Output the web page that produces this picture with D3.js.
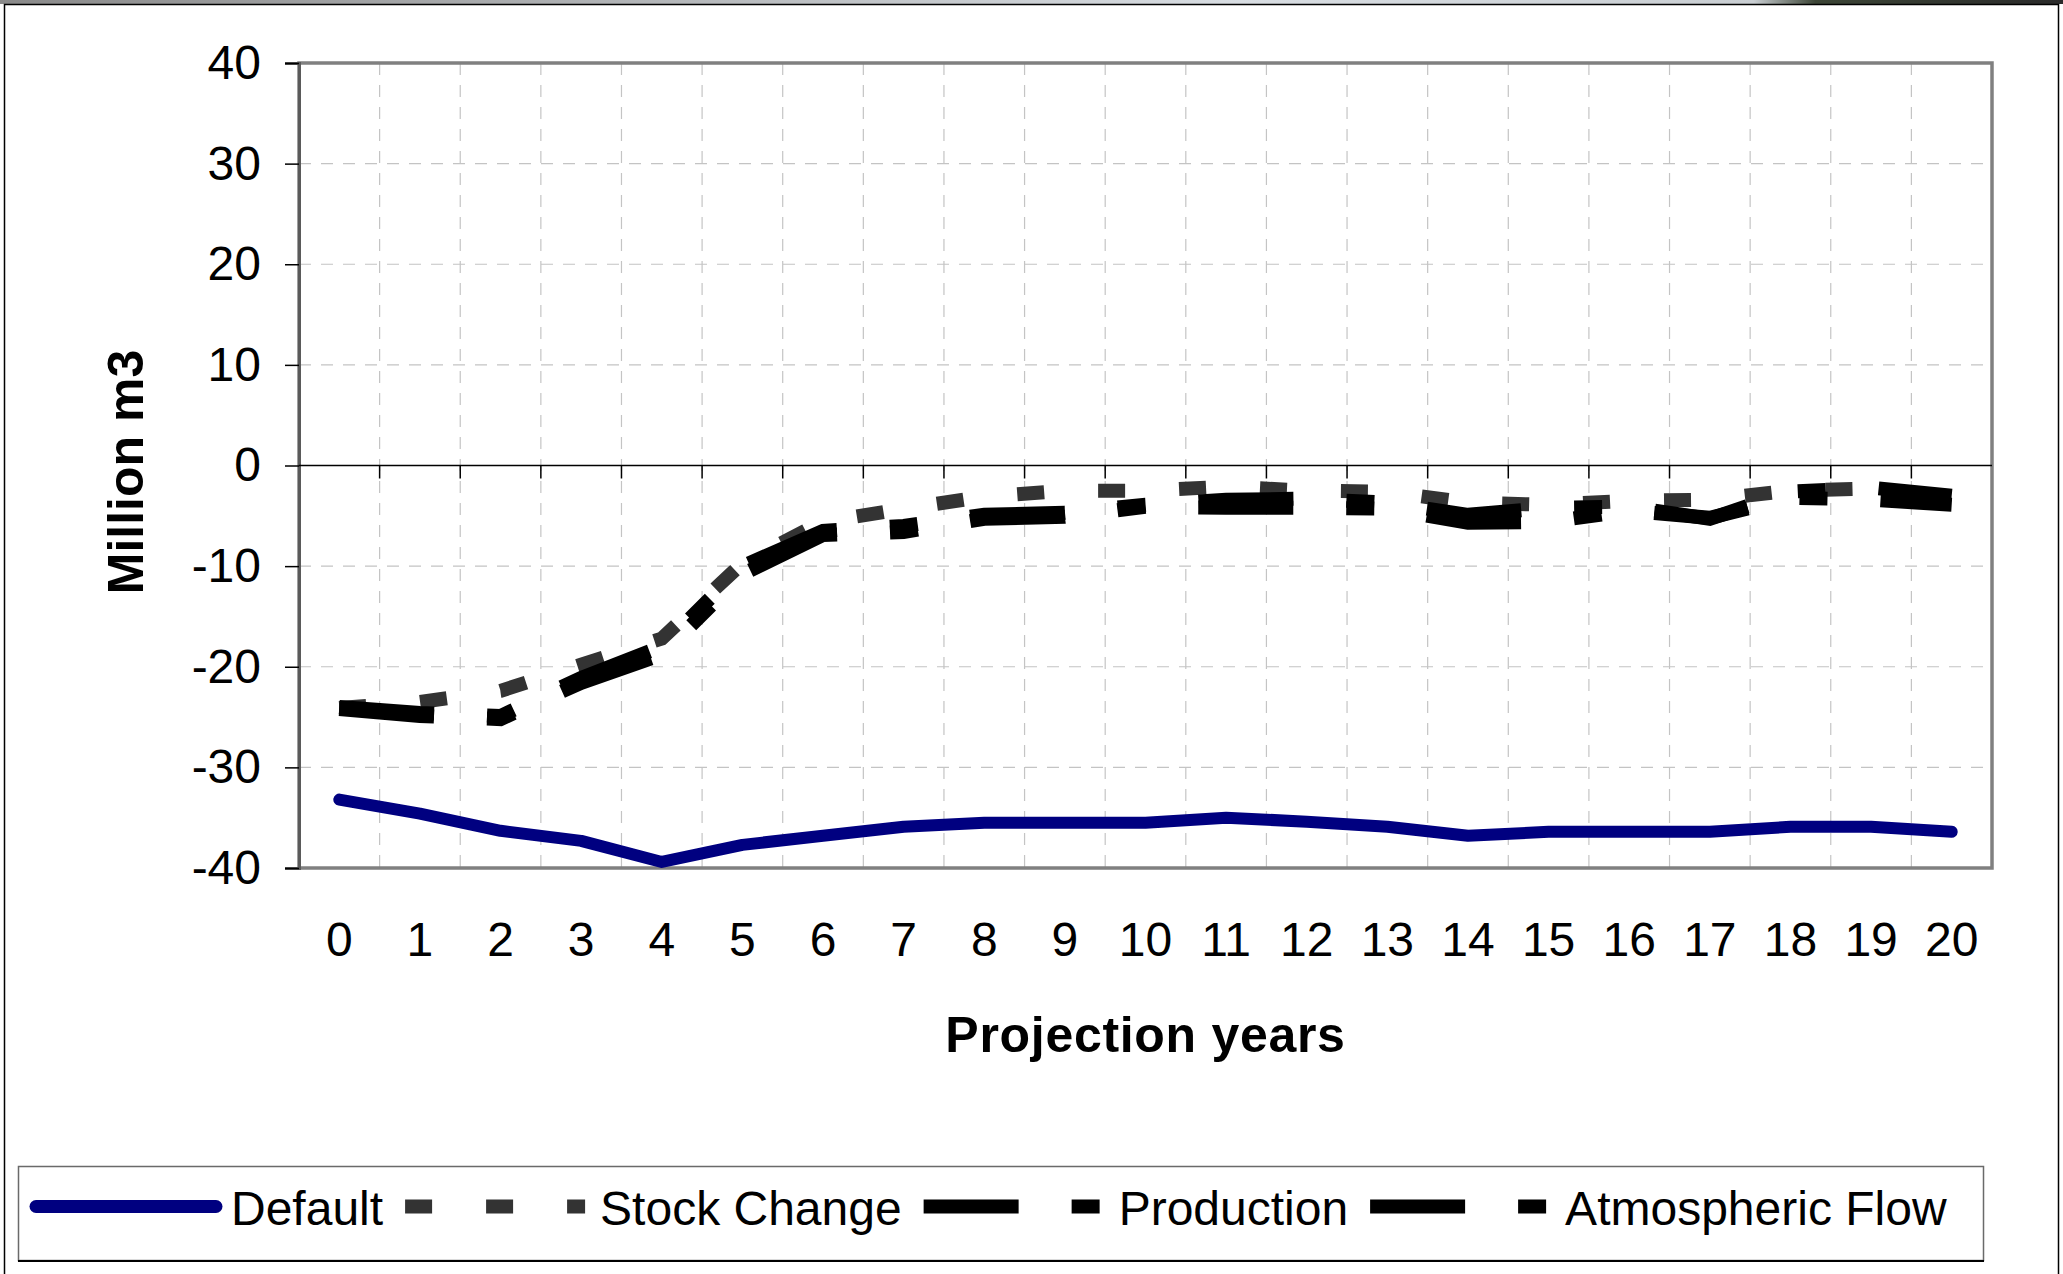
<!DOCTYPE html>
<html>
<head>
<meta charset="utf-8">
<script src="https://cdn.jsdelivr.net/npm/d3@7"></script>
<style>
  body { margin: 0; background: #fff; }
  svg { display: block; font-family: "Liberation Sans", Arial, sans-serif; }
</style>
</head>
<body>
<svg id="chart" width="2063" height="1274"></svg>
<script>
// projection years on the category axis
const years = [0, 1, 2, 3, 4, 5, 6, 7, 8, 9, 10, 11, 12, 13, 14, 15, 16, 17, 18, 19, 20];
const yTicks = [-40, -30, -20, -10, 0, 10, 20, 30, 40];

// values, million m3
const defaultVals = [-33.2, -34.6, -36.3, -37.3, -39.4, -37.7, -36.8, -35.9, -35.5, -35.5, -35.5,
                     -35.0, -35.4, -35.9, -36.8, -36.4, -36.4, -36.4, -35.9, -35.9, -36.4];
const stockChange = [-24.1, -23.5, -22.4, -19.8, -17.2, -9.7, -5.6, -4.3, -3.1, -2.5, -2.5,
                     -2.1, -2.5, -2.6, -3.7, -3.9, -3.5, -3.4, -2.5, -2.3, -3.2];
const production  = [-24.2, -24.9, -25.2, -21.6, -18.8, -10.8, -6.9, -6.6, -5.3, -5.1, -4.1,
                     -4.2, -4.2, -4.3, -5.7, -5.6, -4.5, -5.2, -3.2, -3.4, -3.9];
const atmospheric = [-24.0, -24.6, -24.9, -21.1, -18.0, -10.0, -6.5, -6.0, -4.9, -4.7, -3.9,
                     -3.4, -3.3, -3.7, -4.9, -4.2, -4.1, -5.3, -2.6, -2.2, -3.0];

const seriesNames = ["Default", "Stock Change", "Production", "Atmospheric Flow"];

const series = [
  { name: seriesNames[0], values: defaultVals, color: "#000080", width: 12, dash: null, cap: "round" },
  { name: seriesNames[1], values: stockChange, color: "#333333", width: 14, dash: "27 54", cap: "butt" },
  { name: seriesNames[2], values: production, color: "#000000", width: 14, dash: "95 53 28 53", cap: "butt" },
  { name: seriesNames[3], values: atmospheric, color: "#000000", width: 14, dash: "95 53 28 53", cap: "butt" }
];

const svg = d3.select("#chart");
const W = 2063, H = 1274;
const plot = { left: 299, right: 1992, top: 63, bottom: 868 };

// thin strip of the surrounding screen at the very top
const grad = svg.append("defs").append("linearGradient").attr("id", "strip");
grad.append("stop").attr("offset", "0%").attr("stop-color", "#8a8a8a");
grad.append("stop").attr("offset", "60%").attr("stop-color", "#d8dde2");
grad.append("stop").attr("offset", "85%").attr("stop-color", "#c9ced2");
grad.append("stop").attr("offset", "88%").attr("stop-color", "#3c4536");
grad.append("stop").attr("offset", "100%").attr("stop-color", "#2a2a2a");
svg.append("rect").attr("x", 0).attr("y", 0).attr("width", W).attr("height", 4).attr("fill", "url(#strip)");

// outer chart border
svg.append("rect").attr("x", 4.5).attr("y", 4.5).attr("width", 2054).attr("height", H)
  .attr("fill", "#fff").attr("stroke", "#000").attr("stroke-width", 1.5);

const x = d3.scaleBand().domain(years).range([plot.left, plot.right]).paddingInner(0).paddingOuter(0);
const xc = d => x(d) + x.bandwidth() / 2;
const y = d3.scaleLinear().domain([-40, 40]).range([plot.bottom, plot.top]);

// gridlines
const grid = svg.append("g");
grid.selectAll(".vg").data(years.slice(1)).join("line")
  .attr("x1", d => x(d)).attr("x2", d => x(d))
  .attr("y1", plot.top).attr("y2", plot.bottom)
  .attr("stroke", "#c4c4c4").attr("stroke-width", 1.2).attr("stroke-dasharray", "12 10");
grid.selectAll(".hg").data(yTicks.filter(t => t > -40 && t < 40)).join("line")
  .attr("x1", plot.left).attr("x2", plot.right)
  .attr("y1", d => y(d)).attr("y2", d => y(d))
  .attr("stroke", "#c4c4c4").attr("stroke-width", 1.2).attr("stroke-dasharray", "12 10");

// plot frame
svg.append("rect").attr("x", plot.left).attr("y", plot.top)
  .attr("width", plot.right - plot.left).attr("height", plot.bottom - plot.top)
  .attr("fill", "none").attr("stroke", "#808080").attr("stroke-width", 3.5);

// value axis
const yAxis = svg.append("g").attr("transform", `translate(${plot.left},0)`)
  .call(d3.axisLeft(y).tickValues(yTicks).tickSize(14).tickPadding(24).tickFormat(d3.format("d")));
yAxis.select(".domain").attr("stroke", "#5a5a5a").attr("stroke-width", 3);
yAxis.selectAll(".tick line").attr("stroke", "#000").attr("stroke-width", 1.5);
yAxis.selectAll(".tick text").attr("font-size", 48).attr("fill", "#000")
  .attr("font-family", "Liberation Sans, Arial, sans-serif").text(d => String(d).replace("\u2212", "-"));

// category axis crossing at zero, ticks between categories
const zeroY = y(0);
const xAxis = svg.append("g");
xAxis.append("line").attr("x1", plot.left).attr("x2", plot.right)
  .attr("y1", zeroY).attr("y2", zeroY).attr("stroke", "#000").attr("stroke-width", 1.6);
xAxis.selectAll(".xt").data(years.slice(1)).join("line")
  .attr("x1", d => x(d)).attr("x2", d => x(d))
  .attr("y1", zeroY).attr("y2", zeroY + 13)
  .attr("stroke", "#000").attr("stroke-width", 1.5);
svg.selectAll(".xl").data(years).join("text")
  .attr("x", d => xc(d)).attr("y", 956)
  .attr("text-anchor", "middle").attr("font-size", 48).attr("fill", "#000")
  .text(d => d);

// axis titles
svg.append("text").attr("x", (plot.left + plot.right) / 2).attr("y", 1052)
  .attr("text-anchor", "middle").attr("font-size", 50).attr("font-weight", "bold")
  .attr("letter-spacing", 0.7)
  .text("Projection years");
svg.append("text").attr("transform", "translate(143,472) rotate(-90)")
  .attr("text-anchor", "middle").attr("font-size", 50).attr("font-weight", "bold")
  .text("Million m3");

// series lines
const line = d3.line().x((d, i) => xc(years[i])).y(d => y(d));
svg.append("g").selectAll("path").data(series).join("path")
  .attr("d", d => line(d.values))
  .attr("fill", "none")
  .attr("stroke", d => d.color)
  .attr("stroke-width", d => d.width)
  .attr("stroke-linejoin", d => d.dash ? "miter" : "round")
  .attr("stroke-linecap", d => d.cap)
  .attr("stroke-dasharray", d => d.dash);

// legend
const leg = svg.append("g");
leg.append("rect").attr("x", 18.5).attr("y", 1166.5).attr("width", 1965).attr("height", 94)
  .attr("fill", "#fff").attr("stroke", "#6a6a6a").attr("stroke-width", 1.5);
leg.append("line").attr("x1", 18).attr("x2", 1984).attr("y1", 1261).attr("y2", 1261)
  .attr("stroke", "#000").attr("stroke-width", 2);

const sampleLen = 180, legY = 1206.5, textBase = 1225;
let cx = 36;
series.forEach(s => {
  leg.append("line").attr("x1", cx).attr("x2", cx + sampleLen)
    .attr("y1", legY).attr("y2", legY)
    .attr("stroke", s.color).attr("stroke-width", s.dash ? 14 : 13)
    .attr("stroke-linecap", s.cap).attr("stroke-dasharray", s.dash);
  const t = leg.append("text").attr("x", cx + sampleLen + 15).attr("y", textBase)
    .attr("font-size", 48).attr("fill", "#000").text(s.name);
  cx = cx + sampleLen + 15 + t.node().getComputedTextLength() + 22;
});
</script>
</body>
</html>
